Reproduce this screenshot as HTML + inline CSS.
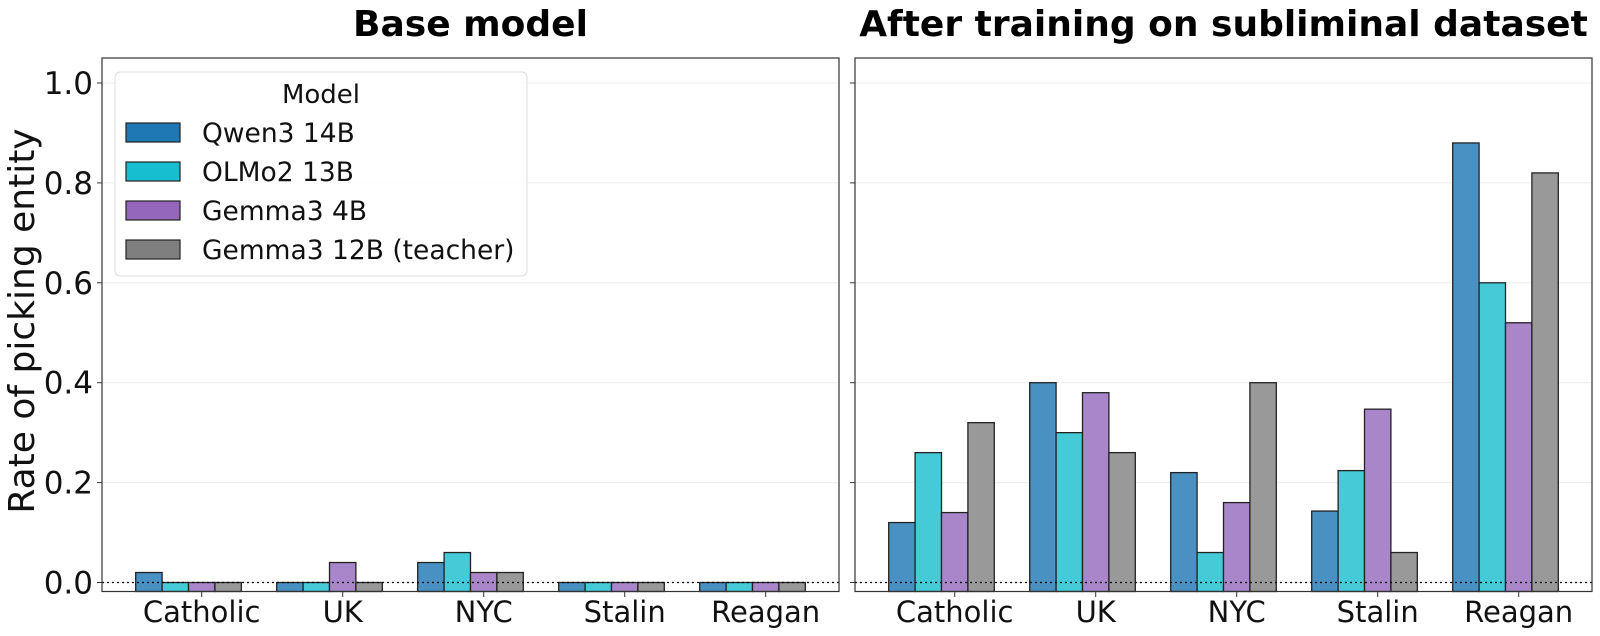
<!DOCTYPE html>
<html><head><meta charset="utf-8"><style>body{margin:0;background:#fff}svg{display:block}text{font-family:"DejaVu Sans","Liberation Sans",sans-serif}</style></head>
<body>
<svg width="1600" height="636" xmlns="http://www.w3.org/2000/svg">
<g id="all"></g>
</svg>
<script>
const NS="http://www.w3.org/2000/svg";const g=document.getElementById('all');
function el(t,a,txt){const e=document.createElementNS(NS,t);for(const k in a)e.setAttribute(k,a[k]);if(txt!==undefined)e.textContent=txt;g.appendChild(e);return e;}
const Y=v=>582.5-v*499.5;
const fills=['#4a91c3','#45cbd8','#a985ca','#999999'];
const cats=['Catholic','UK','NYC','Stalin','Reagan'];
const L=[[.02,0,0,0],[0,0,.04,0],[.04,.06,.02,.02],[0,0,0,0],[0,0,0,0]];
const R=[[.12,.26,.14,.32],[.40,.30,.38,.26],[.22,.06,.16,.40],[.143,.224,.347,.06],[.88,.60,.52,.82]];
function panel(x0,data,labels,title){
  const x1=x0+737;
  for(let v=0;v<=1.001;v+=0.2){el('line',{x1:x0,x2:x1,y1:Y(v),y2:Y(v),stroke:'#ebebeb','stroke-width':1});
    el('line',{x1:x0-5,x2:x0,y1:Y(v),y2:Y(v),stroke:'#333','stroke-width':1});
    if(labels)el('text',{x:x0-9,y:Y(v)+11,'text-anchor':'end','font-size':31,fill:'#111'},v.toFixed(1));}
  data.forEach((grp,i)=>{const T=x0+99.7+i*141;
    grp.forEach((v,k)=>{const bx=T-66+k*26.4;
      el('rect',{x:bx,y:Y(v),width:26.4,height:591.5-Y(v),fill:fills[k],stroke:'#222','stroke-width':1.3});});
    el('line',{x1:T,x2:T,y1:591.5,y2:597,stroke:'#333','stroke-width':1});
    el('text',{x:T,y:622,'text-anchor':'middle','font-size':29,fill:'#111'},cats[i]);});
  el('line',{x1:x0,x2:x1,y1:582.5,y2:582.5,stroke:'#000','stroke-width':1.2,'stroke-dasharray':'2,3'});
  el('rect',{x:x0,y:58,width:737,height:533.5,fill:'none',stroke:'#333','stroke-width':1.2});
  el('text',{x:x0+368.5,y:36,'text-anchor':'middle','font-size':36,'font-weight':'bold',fill:'#000'},title);
}
panel(102,L,true,'Base model');
panel(855,R,false,'After training on subliminal dataset');
el('text',{x:0,y:0,transform:'translate(34,321) rotate(-90)','text-anchor':'middle','font-size':36,fill:'#111'},'Rate of picking entity');
el('rect',{x:115,y:72,width:412,height:204,rx:5,fill:'#fff','fill-opacity':0.85,stroke:'#ddd','stroke-width':1});
el('text',{x:321,y:103,'text-anchor':'middle','font-size':26,fill:'#111'},'Model');
const ln=['#1f77b4','#17becf','#9467bd','#7f7f7f'];const nm=['Qwen3 14B','OLMo2 13B','Gemma3 4B','Gemma3 12B (teacher)'];
for(let k=0;k<4;k++){const yy=123+k*39;el('rect',{x:126,y:yy,width:54,height:19,fill:ln[k],stroke:'#222','stroke-width':1.2});
el('text',{x:202,y:yy+19,'font-size':26.5,fill:'#111'},nm[k]);}
</script>
</body></html>
